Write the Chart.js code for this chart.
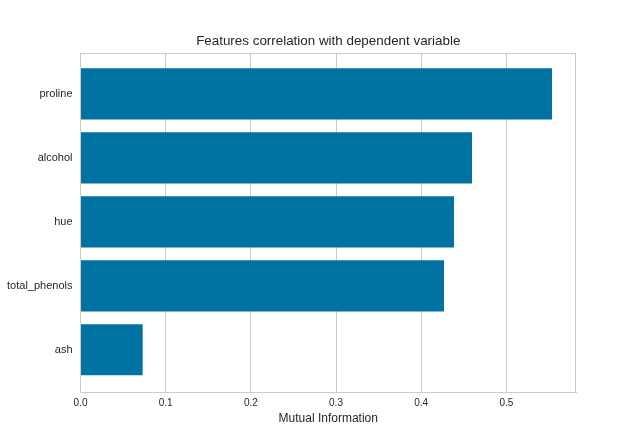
<!DOCTYPE html>
<html>
<head>
<meta charset="utf-8">
<script src="https://cdn.jsdelivr.net/npm/chart.js@4.4.1/dist/chart.umd.min.js"></script>
<style>
  html, body { margin: 0; padding: 0; background: #ffffff; }
  #wrap { width: 640px; height: 440px; }
</style>
</head>
<body>
<div id="wrap"><canvas id="c" width="640" height="440"></canvas></div>
<script>
const chartTitle = 'Features correlation with dependent variable';
const features = ['proline', 'alcohol', 'hue', 'total_phenols', 'ash'];
const mutualInfo = [0.5537, 0.4597, 0.4386, 0.4268, 0.0730];
const xTicks = [0.0, 0.1, 0.2, 0.3, 0.4, 0.5];
const xMax = 0.5818;

const FONT = "'Liberation Sans', Arial, sans-serif";
const points = features.map((f, i) => ({ x: mutualInfo[i], y: i }));

new Chart(document.getElementById('c'), {
  type: 'bar',
  data: {
    datasets: [{
      data: points,
      backgroundColor: '#0173A2',
      borderWidth: 0,
      barPercentage: 0.8,
      categoryPercentage: 1.0
    }]
  },
  options: {
    indexAxis: 'y',
    responsive: false,
    animation: false,
    layout: { padding: { top: 53, right: 64, bottom: 0, left: 0 } },
    plugins: {
      legend: { display: false },
      tooltip: { enabled: false },
      title: { display: false }
    },
    scales: {
      x: {
        type: 'linear',
        position: 'bottom',
        min: 0,
        max: xMax,
        afterBuildTicks: (s) => { s.ticks = xTicks.map(v => ({ value: v })); },
        afterFit: (s) => { s.height = 48; },
        ticks: {
          color: '#262626',
          font: { family: FONT, size: 10 },
          padding: 5,
          callback: (v) => Number(v).toFixed(1)
        },
        grid: { color: '#cccccc', lineWidth: 1, drawTicks: false },
        border: { display: true, color: '#cccccc', width: 1 },
        title: {
          display: true,
          text: 'Mutual Information',
          color: '#262626',
          font: { family: FONT, size: 12 },
          padding: { top: 0, bottom: 13.8 }
        }
      },
      y: {
        type: 'linear',
        position: 'left',
        reverse: true,
        offset: false,
        bounds: 'data',
        grace: 0,
        min: -0.64,
        max: features.length - 1 + 0.66,
        afterBuildTicks: (s) => { s.ticks = features.map((f, i) => ({ value: i })); },
        afterFit: (s) => { s.width = 80.5; },
        ticks: {
          color: '#262626',
          font: { family: FONT, size: 11 },
          padding: 8,
          callback: (v) => features[v]
        },
        grid: { display: false, drawTicks: false, offset: false },
        border: { display: true, color: '#cccccc', width: 1 }
      }
    }
  },
  plugins: [{
    id: 'frameAndTitle',
    afterDatasetsDraw(chart) {
      const { ctx, chartArea: a } = chart;
      ctx.save();
      ctx.strokeStyle = '#cccccc';
      ctx.lineWidth = 1;
      ctx.beginPath();
      ctx.moveTo(a.left, Math.round(a.top) + 0.5);
      ctx.lineTo(a.right, Math.round(a.top) + 0.5);
      ctx.moveTo(Math.round(a.right) - 0.5, a.top);
      ctx.lineTo(Math.round(a.right) - 0.5, a.bottom);
      ctx.stroke();
      ctx.fillStyle = '#262626';
      ctx.font = "13.4px " + FONT;
      ctx.textAlign = 'center';
      ctx.textBaseline = 'middle';
      ctx.fillText(chartTitle, (a.left + a.right) / 2, a.top - 12);
      ctx.restore();
    }
  }]
});
</script>
</body>
</html>
